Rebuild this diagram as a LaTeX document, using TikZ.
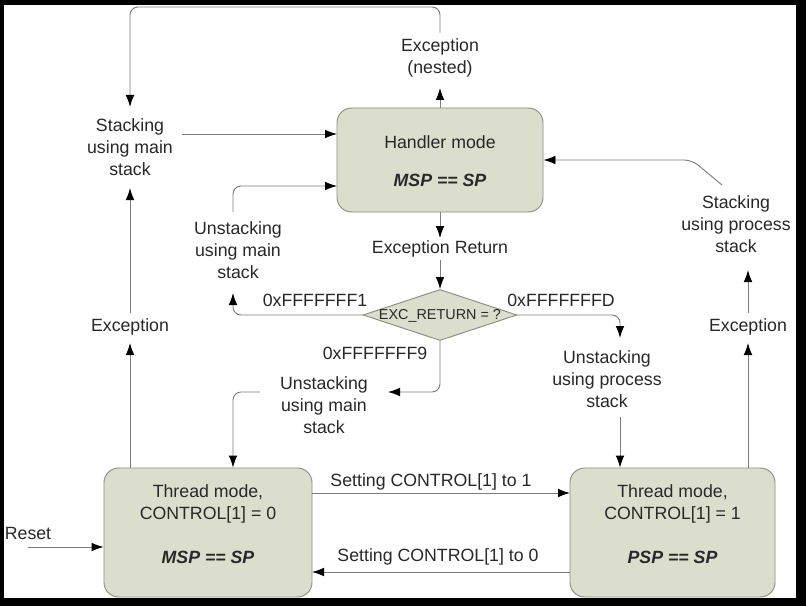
\documentclass[tikz,border=0pt]{standalone}
\usepackage{fontspec}
\setmainfont{Liberation Sans}
\usetikzlibrary{shapes.geometric,arrows.meta,calc}
\definecolor{boxfill}{RGB}{220,222,205}
\definecolor{boxline}{RGB}{140,140,128}
\definecolor{conn}{RGB}{125,125,125}
\definecolor{txt}{RGB}{40,40,40}
\tikzset{
  statebox/.style={draw=boxline, fill=boxfill, line width=0.7pt, rounded corners=11pt, inner sep=0pt},
  decbox/.style={diamond, draw=boxline, fill=boxfill, line width=0.7pt, inner sep=0pt, minimum width=115.5pt, minimum height=38.25pt},
  lbl/.style={font=\fontsize{13.3}{16.5}\selectfont, text=txt, align=center, inner sep=5pt},
  smalllbl/.style={font=\fontsize{10.8}{13}\selectfont, text=txt, inner sep=0pt},
  connline/.style={draw=conn, line width=0.7pt, rounded corners=6pt},
  arr/.style={connline, -{Latex[length=9pt,width=6.5pt,color=black]}},
}
\begin{document}
\begin{tikzpicture}[x=0.75pt,y=-0.75pt]
\useasboundingbox (0,0) rectangle (806,606);
\fill[black] (0,0) rectangle (806,606);
\fill[white] (4,5) rectangle (796,598);

% state boxes
\node[statebox, minimum width=154.5pt, minimum height=78pt] (hand) at (440,160) {};
\node[lbl] (handT) at (440,142) {Handler mode};
\node[lbl] (handM) at (440,180) {\textbf{\textit{MSP == SP}}};

\node[statebox, minimum width=156pt, minimum height=96.75pt] (t0) at (208,532.5) {};
\node[lbl] (t0T) at (208,504) {Thread mode,\\CONTROL[1] = 0};
\node[lbl] (t0M) at (208,557) {\textbf{\textit{MSP == SP}}};

\node[statebox, minimum width=153.75pt, minimum height=96.75pt] (t1) at (672.5,532.5) {};
\node[lbl] (t1T) at (672.5,504) {Thread mode,\\CONTROL[1] = 1};
\node[lbl] (t1M) at (672.5,557) {\textbf{\textit{PSP == SP}}};

\node[decbox] (dia) at (440,315) {};
\node[smalllbl] (diaT) at (440,316) {EXC\_RETURN = ?};

% labels
\node[lbl] (stm) at (130,147) {Stacking\\using main\\stack};
\node[lbl] (nest) at (440,58) {Exception\\(nested)};
\node[lbl] (exr) at (440,249) {Exception Return};
\node[lbl] (unm1) at (238,250) {Unstacking\\using main\\stack};
\node[lbl] (unp) at (607,379) {Unstacking\\using process\\stack};
\node[lbl] (unm2) at (324,405) {Unstacking\\using main\\stack};
\node[lbl] (stp) at (736,224) {Stacking\\using process\\stack};
\node[lbl] (ex1) at (130,327) {Exception};
\node[lbl] (ex2) at (748,327) {Exception};
\node[lbl] (rst) at (28,533) {Reset};
\node[lbl] (l1) at (315,300) {0xFFFFFFF1};
\node[lbl] (lD) at (561,300) {0xFFFFFFFD};
\node[lbl] (l9) at (375,353) {0xFFFFFFF9};
\node[lbl] (s1) at (431,482) {Setting CONTROL[1] to 1};
\node[lbl] (s0) at (438,557) {Setting CONTROL[1] to 0};

% connectors
\coordinate (rA) at ($(rst.center)+(0,14)$);
\draw[arr] (rA) -- (rA -| t0.west);

\draw[arr] (t0.north -| ex1) -- ($(ex1.center)+(0,16)$);
\draw[arr] ($(ex1.center)+(0,-14)$) -- ($(stm.center)+(0,41)$);
\draw[arr] ($(stm.center)+(52,-13)$) -- ($(hand.center)+(-103,-26)$);

\draw[arr] (hand.north) -- ($(nest.center)+(0,30)$);
\draw[arr] ($(nest.center)+(0,-25)$) |- ($(stm.center)+(0,-140)$) -- ($(stm.center)+(0,-40)$);

\draw[arr] (hand.south) -- ($(exr.center)+(0,-11)$);
\draw[arr] ($(exr.center)+(0,11)$) -- (dia.north);

\draw[arr] (dia.west) -| ($(unm1.center)+(-5,43)$);
\draw[arr] ($(unm1.center)+(-5,-38)$) |- ($(hand.center)+(-103,26)$);

\draw[arr] (dia.east) -| ($(unp.center)+(13,-41)$);
\coordinate (pA) at ($(unp.center)+(13,38)$);
\draw[arr] (pA) -- (pA |- t1.north);

\draw[arr] (dia.south) |- ($(unm2.center)+(64,-13)$);
\draw[arr] ($(unm2.center)+(-64,-13)$) -| ($(t0.north)+(25,0)$);

\draw[arr] ($(t0.center)+(104,-39.5)$) -- ($(t1.center)+(-102.5,-39.5)$);
\draw[arr] ($(t1.center)+(-102.5,39.5)$) -- ($(t0.center)+(104,39.5)$);

\draw[arr] (t1.north -| ex2) -- ($(ex2.center)+(0,16)$);
\draw[arr] ($(ex2.center)+(0,-14)$) -- ($(stp.center)+(12,46)$);
\draw[arr] ($(stp.center)+(-14,-39)$) -- ($(stp.center)+(-44,-64)$) -- (hand.east);
\end{tikzpicture}
\end{document}
